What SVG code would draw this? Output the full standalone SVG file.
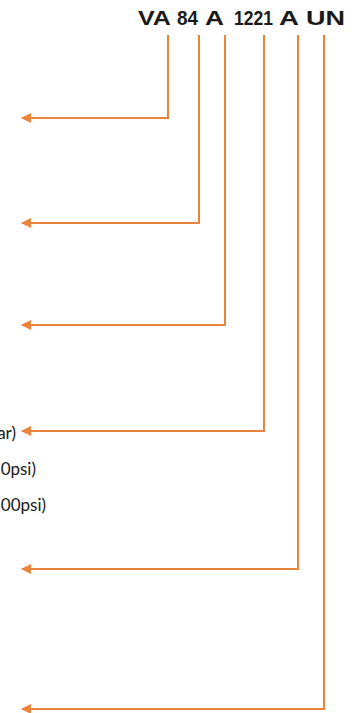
<svg xmlns="http://www.w3.org/2000/svg" width="356" height="713" viewBox="0 0 356 713">
<defs>
<style>
.conn{fill:none;stroke:#E8843C;stroke-width:2;}
.code{font-family:"Liberation Sans",Arial,sans-serif;font-weight:bold;font-size:19.5px;fill:#1a1a1a;}
.lbl{font-family:Lato,"Liberation Sans",sans-serif;font-size:17px;fill:#1a1a1a;}
</style>
<marker id="ah" viewBox="0 0 10 10" refX="9" refY="5" markerWidth="10" markerHeight="10" markerUnits="userSpaceOnUse" orient="auto">
<path d="M0,0 L10,5 L0,10 z" fill="#E8843C"/>
</marker>
</defs>
<rect width="356" height="713" fill="#ffffff"/>
<g id="code">
<text class="code" x="138" y="25" textLength="33" lengthAdjust="spacingAndGlyphs">VA</text>
<text class="code" x="177" y="25" textLength="21" lengthAdjust="spacingAndGlyphs">84</text>
<text class="code" x="205" y="25" textLength="19" lengthAdjust="spacingAndGlyphs">A</text>
<text class="code" x="234" y="25" textLength="39" lengthAdjust="spacingAndGlyphs">1221</text>
<text class="code" x="279" y="25" textLength="20" lengthAdjust="spacingAndGlyphs">A</text>
<text class="code" x="306" y="25" textLength="39" lengthAdjust="spacingAndGlyphs">UN</text>
</g>
<g id="labels">
<text class="lbl" x="16" y="439" text-anchor="end">ar)</text>
<text class="lbl" x="36" y="475" text-anchor="end">0psi)</text>
<text class="lbl" x="46" y="511" text-anchor="end">00psi)</text>
</g>
<g id="connectors">
<path class="conn" marker-end="url(#ah)" d="M168,35 V118 H22"/>
<path class="conn" marker-end="url(#ah)" d="M199,35 V223 H22"/>
<path class="conn" marker-end="url(#ah)" d="M225,35 V325 H22"/>
<path class="conn" marker-end="url(#ah)" d="M264,35 V431 H22"/>
<path class="conn" marker-end="url(#ah)" d="M298,35 V569 H22"/>
<path class="conn" marker-end="url(#ah)" d="M324,35 V709 H22"/>
</g>
</svg>
